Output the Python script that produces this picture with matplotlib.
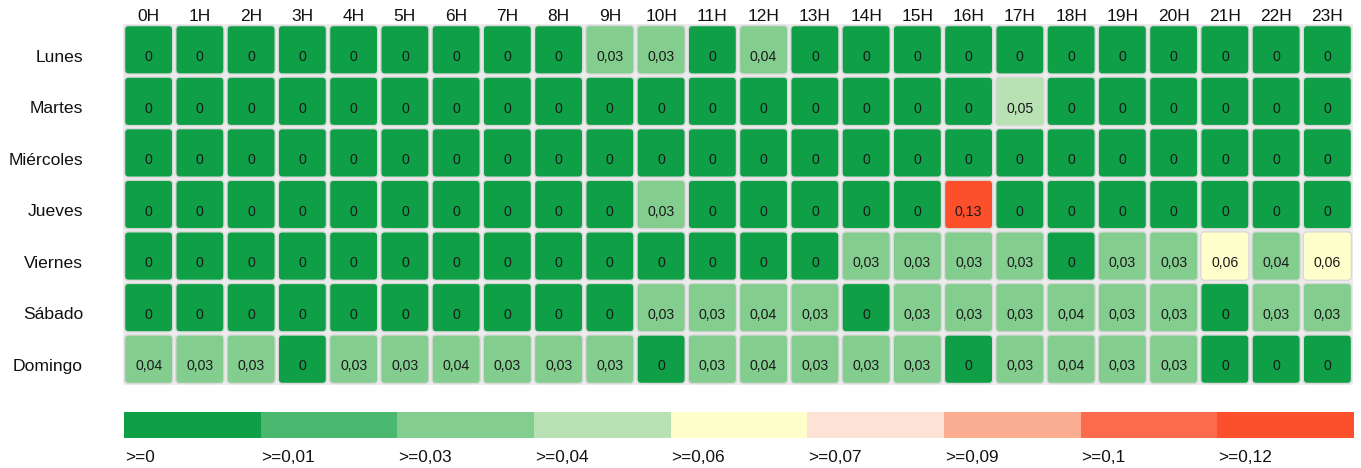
import matplotlib
matplotlib.use("Agg")
import matplotlib.pyplot as plt
from matplotlib.patches import FancyBboxPatch, Rectangle
import numpy as np

plt.rcParams['font.family'] = ['Liberation Sans', 'DejaVu Sans']

days = ["Lunes", "Martes", "Miércoles", "Jueves", "Viernes", "Sábado", "Domingo"]
hours = [f"{h}H" for h in range(24)]

lunes     = [0, 0, 0, 0, 0, 0, 0, 0, 0, 0.03, 0.03, 0, 0.04, 0, 0, 0, 0, 0, 0, 0, 0, 0, 0, 0]
martes    = [0, 0, 0, 0, 0, 0, 0, 0, 0, 0, 0, 0, 0, 0, 0, 0, 0, 0.05, 0, 0, 0, 0, 0, 0]
miercoles = [0, 0, 0, 0, 0, 0, 0, 0, 0, 0, 0, 0, 0, 0, 0, 0, 0, 0, 0, 0, 0, 0, 0, 0]
jueves    = [0, 0, 0, 0, 0, 0, 0, 0, 0, 0, 0.03, 0, 0, 0, 0, 0, 0.13, 0, 0, 0, 0, 0, 0, 0]
viernes   = [0, 0, 0, 0, 0, 0, 0, 0, 0, 0, 0, 0, 0, 0, 0.03, 0.03, 0.03, 0.03, 0, 0.03, 0.03, 0.06, 0.04, 0.06]
sabado    = [0, 0, 0, 0, 0, 0, 0, 0, 0, 0, 0.03, 0.03, 0.04, 0.03, 0, 0.03, 0.03, 0.03, 0.04, 0.03, 0.03, 0, 0.03, 0.03]
domingo   = [0.04, 0.03, 0.03, 0, 0.03, 0.03, 0.04, 0.03, 0.03, 0.03, 0, 0.03, 0.04, 0.03, 0.03, 0.03, 0, 0.03, 0.04, 0.03, 0.03, 0, 0, 0]

palette = ["#0e9f47", "#4bb86f", "#83cd8f", "#b8e2b3", "#ffffcc",
           "#fde2d6", "#faad90", "#fc6b4c", "#fc4f2c"]

values = np.array([lunes, martes, miercoles, jueves, viernes, sabado, domingo])
n_bins = len(palette)
# equal-width classes from 0 up to the maximum value
thresholds = np.arange(n_bins) * values.max() / n_bins


def fmt(v):
    s = f"{v:.2f}".rstrip("0").rstrip(".")
    return s.replace(".", ",")


def color_for(v):
    idx = np.searchsorted(thresholds, v + 1e-12, side="right") - 1
    return palette[max(idx, 0)]


W, H = 1361, 468
fig = plt.figure(figsize=(W / 100, H / 100), dpi=100)
PX = 72 / 100  # points per pixel

# heatmap grid
gx0, gx1, gy0, gy1 = 123, 1353, 24, 385
ax = fig.add_axes([gx0 / W, 1 - gy1 / H, (gx1 - gx0) / W, (gy1 - gy0) / H])
nrows, ncols = values.shape
ax.set_xlim(0, ncols)
ax.set_ylim(nrows, 0)
ax.set_facecolor("#ececec")
for s in ax.spines.values():
    s.set_visible(False)

text_drop = 0.14  # labels sit a little below the cell centre
inset = 0.03
for i in range(nrows):
    for j in range(ncols):
        v = values[i, j]
        box = FancyBboxPatch((j + inset, i + inset), 1 - 2 * inset, 1 - 2 * inset,
                             boxstyle="round,pad=0,rounding_size=0.08",
                             facecolor=color_for(v), edgecolor="#d9d9d9",
                             linewidth=1.0)
        ax.add_patch(box)
        ax.text(j + 0.5, i + 0.5 + text_drop, fmt(v), ha="center",
                va="center", fontsize=10.2, color="#1a1a1a")

ax.xaxis.tick_top()
ax.set_xticks(np.arange(ncols) + 0.5)
ax.set_xticklabels(hours, fontsize=12.5, color="#111111")
ax.set_yticks(np.arange(nrows) + 0.5 + text_drop)
ax.set_yticklabels(days, fontsize=12.6, color="#111111")
for lab in ax.get_yticklabels():
    lab.set_verticalalignment("center")
ax.tick_params(axis="x", length=0, pad=0)
ax.tick_params(axis="y", length=0, pad=40 * PX)

# colour class legend
lx0, lx1, ly0, ly1 = 124, 1354, 412, 438
lax = fig.add_axes([lx0 / W, 1 - ly1 / H, (lx1 - lx0) / W, (ly1 - ly0) / H])
lax.set_xlim(0, n_bins)
lax.set_ylim(0, 1)
lax.axis("off")
for k, c in enumerate(palette):
    lax.add_patch(Rectangle((k, 0), 1, 1, facecolor=c, edgecolor="none"))
    lax.text(k + 0.005, -24 / (ly1 - ly0), ">=" + fmt(thresholds[k]),
             ha="left", va="baseline", fontsize=12.4, color="#111111")

fig.savefig("out.png", dpi=100, facecolor="white")
